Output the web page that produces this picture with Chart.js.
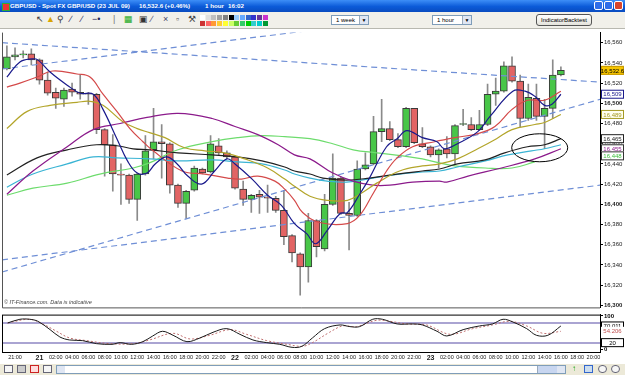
<!DOCTYPE html>
<html>
<head>
<meta charset="utf-8">
<script src="https://cdn.jsdelivr.net/npm/chart.js@4.4.0/dist/chart.umd.min.js"></script>
<style>
html,body{margin:0;padding:0;width:625px;height:375px;overflow:hidden;background:#fff;font-family:"Liberation Sans",Arial,sans-serif}
.abs{position:absolute}
#title{left:0;top:0;width:625px;height:12px;background:linear-gradient(#3d8ef7,#0b5ad8 55%,#0a4cc0);color:#fff;font-size:6.2px;font-weight:bold;line-height:12px;white-space:pre}
#title span{position:absolute;top:0}
.wb{position:absolute;top:1px;width:9px;height:9px;border:1px solid #fff;border-radius:2px;background:#2f6ee8;box-sizing:border-box}
#tool{left:0;top:12px;width:625px;height:16px;background:#f1f0ea;border-bottom:1px solid #b8b8b0}
.ic{position:absolute;top:2px;font-size:9px;line-height:11px;color:#333}
.pal{position:absolute;width:5px;height:5px}
.sel{position:absolute;top:3px;height:10px;background:#fff;border:1px solid #7f9db9;box-sizing:border-box;font-size:6px;line-height:8px;padding-left:4px;color:#000}
.sel i{position:absolute;right:0;top:0;width:8px;height:8px;background:#dfe6f3;border-left:1px solid #9ab;font-style:normal;font-size:5px;text-align:center}
#btn{left:536px;top:2px;width:56px;height:12px;border:1px solid #555;border-radius:3px;background:linear-gradient(#fff,#e4e3dc);box-sizing:border-box;font-size:6px;line-height:10px;text-align:center}
#copy{left:4px;top:299px;font-size:5.5px;font-style:italic;color:#444}
#bottom{left:0;top:364px;width:625px;height:11px;background:#ece9d8}
.bi{position:absolute;top:1px;width:9px;height:8px;border:1px solid #667;box-sizing:border-box;background:#f6f6f6}
#scroll{left:56px;top:1px;width:510px;height:9px;border:1px solid #7f9db9;background:#fff;box-sizing:border-box}
</style>
</head>
<body>
<div id="title" class="abs">
  <span style="left:2px;top:3px;width:6px;height:6px;background:#e33;border:1px solid #3a3"></span>
  <span style="left:10px">GBPUSD - Spot FX GBP/USD (23 JUL 09)</span>
  <span style="left:139px">16,532.6 (+0.46%)</span>
  <span style="left:205px">1 hour</span>
  <span style="left:228px">16:02</span>
  <div class="wb" style="left:594px"></div>
  <div class="wb" style="left:604px"></div>
  <div class="wb" style="left:614px;background:#d9452b"></div>
</div>
<div id="tool" class="abs">
  <span class="ic" style="left:36px">&#8598;</span>
  <span class="ic" style="left:46px;color:#d9a400">&#9650;</span>
  <span class="ic" style="left:57px">&#9906;</span>
  <span class="ic" style="left:70px;color:#225">&#8725;</span>
  <span class="ic" style="left:81px;color:#225">&#8725;</span>
  <span class="ic" style="left:92px;color:#225">&#8722;&#8226;</span>
  <span class="ic" style="left:113px;color:#777">|</span>
  <span class="ic" style="left:124px;color:#2a2">&#9638;</span>
  <span class="ic" style="left:139px">&#9635;</span>
  <span class="ic" style="left:151px;color:#446">&#8725;</span>
  <span class="ic" style="left:163px;color:#446">&#215;</span>
  <span class="ic" style="left:176px;color:#555">&#9643;</span>
  <span class="ic" style="left:188px;color:#444">&#9874;</span>
  <div id="pal"></div>
  <div class="sel" style="left:331px;width:38px">1 week<i>&#9660;</i></div>
  <div class="sel" style="left:432px;width:40px">1 hour<i>&#9660;</i></div>
  <div id="btn" class="abs">IndicatorBacktest</div>
</div>
<canvas id="main" class="abs" style="left:0;top:28px" width="625" height="284"></canvas>
<div id="copy" class="abs">&copy; IT-Finance.com. Data is indicative</div>
<canvas id="osc" class="abs" style="left:0;top:310px" width="625" height="54"></canvas>
<div id="bottom" class="abs">
  <div class="bi" style="left:4px"></div>
  <div class="bi" style="left:17px;background:#ccc"></div>
  <div class="bi" style="left:30px;border-color:#c22;background:#fdd"></div>
  <div class="bi" style="left:43px"></div>
  <div id="scroll" class="abs">
    <div class="abs" style="left:0;top:0;width:8px;height:7px;background:#dfe6f3"></div>
    <div class="abs" style="left:480px;top:0;width:20px;height:7px;background:#c8d6f0;border-left:1px solid #9ab"></div>
    <div class="abs" style="left:500px;top:0;width:8px;height:7px;background:#dfe6f3"></div>
  </div>
  <div class="bi" style="left:572px;border:none;background:none;color:#2a2;font-size:8px;line-height:8px">&#8593;</div>
  <div class="bi" style="left:584px;border-color:#36c;background:#cde"></div>
  <div class="bi" style="left:598px;border-radius:5px"></div>
  <div class="bi" style="left:611px;border-radius:5px"></div>
</div>
<script>
// hourly candles, 20 Jul 20:00 .. 23 Jul 16:00
const opens  = [16534,16546,16548,16549,16543,16523,16511,16504,16514,16511,16510,16509,16474,16459,16430,16429,16405,16430,16454,16462,16460,16419,16401,16414,16435,16432,16458,16451,16447,16415,16405,16410,16407,16406,16394,16369,16351,16338,16384,16356,16400,16426,16391,16389,16435,16440,16472,16475,16464,16457,16495,16460,16457,16449,16455,16450,16479,16479,16474,16479,16509,16512,16537,16522,16485,16505,16487,16495,16528];
const highs  = [16557,16555,16552,16554,16544,16531,16515,16515,16520,16528,16511,16510,16475,16469,16440,16430,16431,16468,16495,16479,16461,16420,16414,16438,16436,16468,16465,16453,16448,16423,16410,16414,16419,16408,16414,16370,16352,16391,16385,16410,16450,16427,16402,16443,16451,16487,16504,16482,16470,16496,16495,16476,16458,16455,16467,16479,16494,16486,16493,16519,16525,16541,16546,16528,16519,16519,16504,16543,16536];
const lows   = [16533,16543,16545,16538,16519,16508,16495,16497,16507,16504,16499,16470,16428,16413,16400,16401,16384,16429,16445,16426,16411,16397,16386,16413,16430,16431,16449,16445,16415,16399,16392,16391,16392,16392,16360,16343,16310,16323,16348,16354,16399,16390,16355,16388,16434,16439,16462,16463,16456,16456,16460,16456,16447,16436,16446,16440,16478,16473,16473,16478,16498,16511,16521,16477,16483,16483,16455,16485,16527];
const closes = [16546,16548,16549,16543,16523,16510,16505,16513,16511,16509,16509,16474,16459,16430,16429,16405,16430,16453,16462,16460,16419,16401,16413,16436,16431,16460,16451,16447,16416,16405,16409,16407,16406,16394,16368,16352,16338,16384,16358,16400,16426,16391,16389,16435,16439,16472,16475,16464,16457,16495,16461,16457,16449,16454,16450,16478,16480,16474,16479,16509,16512,16537,16522,16485,16506,16487,16495,16528,16532.6];

// moving averages: [candle position, price]
const maBlue   = [[0,16526],[1.6,16541],[3.1,16544],[3.8,16543],[5.3,16531],[7.4,16518],[9,16510],[10.6,16509],[11.8,16494],[13.5,16465],[14.8,16443],[16,16431],[17.2,16431],[18.2,16440],[19.6,16447],[20.9,16440],[22.2,16428],[23.9,16420],[25.5,16433],[27,16445],[28,16440],[30.1,16425],[32,16409],[33.7,16399],[35.3,16381],[36.8,16371],[37.9,16361],[39.3,16374],[40.9,16391],[41.8,16392],[43.3,16410],[44.5,16426],[46.6,16457],[47.9,16465],[49.1,16473],[51,16466],[52.8,16462],[53.7,16455],[55.3,16460],[57.8,16472],[59.3,16487],[62.1,16512],[63.6,16512],[64.8,16507],[66,16498],[66.9,16499],[68,16509]];
const maRed    = [[0,16516],[1.6,16520],[3.7,16526],[5.6,16532],[8.6,16529],[10.2,16526],[11.8,16509],[13.5,16492],[15.1,16475],[16.7,16462],[17.8,16454],[21.5,16433],[24.3,16430],[27.1,16426],[28.8,16425],[30.8,16428],[32.9,16423],[34.1,16415],[35.3,16404],[36.3,16392],[38.4,16382],[41.8,16381],[43.3,16389],[44.9,16410],[46.6,16433],[47.9,16446],[49.8,16457],[52.5,16462],[55,16466],[57.8,16470],[59.9,16477],[62,16494],[63.9,16503],[66,16503],[68,16512]];
const maOlive  = [[0,16475],[2.5,16492],[5.3,16498],[8.6,16501],[10.2,16502],[11.8,16498],[14.2,16482],[16,16475],[17.5,16471],[19.4,16466],[21.8,16456],[24.3,16453],[26.7,16451],[29.2,16445],[32,16436],[34.1,16425],[35.3,16418],[37.2,16408],[39.3,16404],[41.8,16404],[43.3,16410],[45.4,16421],[48.2,16433],[51,16438],[53.1,16440],[55.3,16445],[57.8,16455],[60.1,16465],[62,16474],[64.8,16479],[66,16481],[68,16489]];
const maPurple = [[0,16410],[3.2,16433],[7.4,16457],[10.6,16474],[13.9,16480],[17.2,16486],[21,16490],[25.2,16485],[28,16477],[30.8,16469],[33.3,16459],[35.3,16449],[37.2,16445],[40,16431],[42.5,16423],[44.9,16419],[47,16419],[49.8,16422],[53.1,16423],[54,16422],[56.6,16428],[60.7,16436],[64.8,16445],[68,16455]];
const maBlack  = [[0,16429],[3.7,16446],[7.4,16454],[11,16459],[13.5,16458],[15.5,16455],[17.5,16454],[21,16451],[25.2,16449],[28.3,16447],[31.3,16443],[34.1,16437],[35.3,16433],[37.2,16430],[38.8,16426],[41.7,16424],[44.5,16426],[47.9,16430],[51,16433],[53.1,16435],[55.3,16440],[58.7,16444],[61.1,16451],[63.9,16457],[66,16459],[68,16465]];
const maCyan   = [[0,16417],[3.2,16430],[7.4,16440],[10.6,16447],[13.5,16446],[17.5,16445],[21,16443],[25.2,16444],[28.3,16442],[31.3,16440],[34.1,16434],[35.3,16430],[37.2,16426],[39.3,16423],[41.7,16422],[44.9,16426],[48.2,16430],[51,16432],[53.1,16433],[55.3,16437],[58.7,16443],[61.5,16449],[64.4,16453],[66,16455],[68,16459]];
const maGreen  = [[0,16409],[3.2,16416],[7.4,16421],[11.4,16430],[15.5,16436],[17.5,16441],[21,16454],[25.2,16462],[28.3,16466],[31.3,16468],[34.1,16467],[37.2,16465],[40,16460],[42.5,16454],[45.4,16451],[48.6,16448],[51,16445],[53.1,16441],[55,16438],[58.7,16436],[62,16436],[64.8,16442]];

// dashed trend lines: [[x0, p0], [x1, p1]]
const trends = [
  [[-0.6,16560],[72.8,16521]],
  [[-0.6,16534],[72.8,16608]],
  [[-0.6,16333],[72.8,16504]],
  [[-0.6,16345],[72.8,16419]]
];

// stochastic
const stochK = [[0.1,79],[1.6,90],[2.8,90],[3.8,84],[5.3,59],[6.5,37],[7.7,28],[9.3,26],[11,17],[12.9,15],[13.9,20],[15.3,15],[16.7,23],[17.9,40],[19.1,54],[20.4,42],[22.1,23],[23.7,34],[25.3,51],[27,62],[28.6,45],[30.2,28],[31.9,20],[33.5,15],[35,6],[36.2,9],[37.5,34],[39,62],[40.9,73],[42.1,68],[43.3,68],[44.9,90],[46.1,90],[47.9,76],[49.8,76],[51,73],[52.8,54],[54,40],[56,59],[58,70],[59.6,76],[60.9,90],[62.1,82],[63.8,62],[65,42],[66.4,42],[68,70]];
const stochD = [[0.1,79],[2.8,90],[4.4,76],[6.1,54],[7.7,34],[9.8,26],[12.6,17],[15.5,17],[17.5,28],[20.4,48],[22.5,31],[24.9,42],[27.4,59],[29.4,45],[31.9,26],[34.4,15],[36.3,9],[37.5,20],[39.6,51],[41.2,70],[42.9,68],[45.4,87],[47,84],[49.1,76],[51.5,73],[54.4,45],[57.2,62],[59.6,73],[61.7,84],[63.8,70],[65.8,48],[68,54]];
const stochLevels = [80, 20];

const yTicks = [16300,16320,16340,16360,16380,16400,16420,16440,16460,16480,16500,16520,16540,16560];
const xTickPos  = [1,4,6,8,10,12,14,16,18,20,22,24,26,28,30,32,34,36,38,40,42,44,46,48,50,52,54,56,58,60,62,64,66,68,70,72];
const xTickText = ['21:00','21','02:00','04:00','06:00','08:00','10:00','12:00','14:00','16:00','18:00','20:00','22:00','22','02:00','04:00','06:00','08:00','10:00','12:00','14:00','16:00','18:00','20:00','22:00','23','02:00','04:00','06:00','08:00','10:00','12:00','14:00','16:00','18:00','20:00'];

const priceTags = [
  {text:'16,532.6', value:16532.6, color:'#000', bg:'#f5c400', border:'#c79a00'},
  {text:'16,509', value:16509, color:'#1a1a8c', bg:'#fff', border:'#1a1a8c'},
  {text:'16,489', value:16489, color:'#a59a25', bg:'#fffff0', border:'#a59a25'},
  {text:'16,465', value:16465, color:'#222', bg:'#fff', border:'#222'},
  {text:'16,455', value:16455, color:'#8b1a8b', bg:'#fff', border:'#333'},
  {text:'16,448', value:16448, color:'#3bbf3b', bg:'#fff', border:'#333'}
];
const stochTags = [
  {text:'70.011', value:70, color:'#000', bg:'#fff', border:'#000'},
  {text:'54.206', value:54, color:'#c05050', bg:'#fff', border:null},
  {text:'20', value:20, color:'#000', bg:'#fff', border:'#000'}
];
const circled = {x:65.4, y:16456, rx:28, ry:14};

const xMin = -0.6, xMax = 72.8;
const FONT = '"Liberation Sans", Arial, sans-serif';
const UP = '#48c648', DOWN = '#e26464';

// palette in toolbar
const palTop = ['#fff','#e0e0e0','#c0c0c0','#a0a0a0','#808080','#000','#9cf','#6af','#36c','#33c','#639','#c3c'];
const palBot = ['#c33','#f66','#f93','#fc3','#ff3','#cf6','#6c3','#3c6','#0c0','#3cc','#0cc','#093'];
const palDiv = document.getElementById('pal');
palTop.forEach((c, i) => palDiv.insertAdjacentHTML('beforeend', `<div class="pal" style="left:${200 + i * 5.7}px;top:3px;background:${c}"></div>`));
palBot.forEach((c, i) => palDiv.insertAdjacentHTML('beforeend', `<div class="pal" style="left:${200 + i * 5.7}px;top:9px;background:${c}"></div>`));

function fmt(v) {
  return String(v).replace(/\B(?=(\d{3})+(?!\d))/g, ',');
}
function pts(arr) {
  return arr.map(p => ({x: p[0], y: p[1]}));
}
function maLine(arr, color) {
  return {type: 'line', data: pts(arr), borderColor: color, borderWidth: 1.2, pointRadius: 0, tension: 0.4, order: 1};
}
function drawTags(chart, tags) {
  const ctx = chart.ctx, y = chart.scales.y;
  ctx.save();
  ctx.font = '6px ' + FONT;
  ctx.textAlign = 'center';
  ctx.textBaseline = 'middle';
  tags.forEach(t => {
    const py = y.getPixelForValue(t.value);
    ctx.fillStyle = t.bg;
    ctx.fillRect(601, py - 4.5, 23, 9);
    if (t.border) {
      ctx.strokeStyle = t.border;
      ctx.lineWidth = 1;
      ctx.strokeRect(601.5, py - 4, 22, 8);
    }
    ctx.fillStyle = t.color;
    ctx.fillText(t.text, 612.5, py + 0.5);
  });
  ctx.restore();
}

const mainDecor = {
  id: 'mainDecor',
  afterDraw(chart) {
    const ctx = chart.ctx, a = chart.chartArea, x = chart.scales.x, y = chart.scales.y;
    ctx.save();
    ctx.strokeStyle = '#000';
    ctx.lineWidth = 1;
    ctx.beginPath();
    ctx.ellipse(x.getPixelForValue(circled.x), y.getPixelForValue(circled.y), circled.rx, circled.ry, 0, 0, Math.PI * 2);
    ctx.stroke();
    ctx.strokeStyle = '#555';
    ctx.beginPath();
    ctx.moveTo(a.left + 0.5, a.top);
    ctx.lineTo(a.left + 0.5, a.bottom + 0.5);
    ctx.lineTo(a.right, a.bottom + 0.5);
    ctx.stroke();
    ctx.restore();
    drawTags(chart, priceTags);
  }
};

const oscDecor = {
  id: 'oscDecor',
  beforeDatasetsDraw(chart) {
    const ctx = chart.ctx, a = chart.chartArea, y = chart.scales.y;
    ctx.save();
    ctx.strokeStyle = '#aaa4d2';
    ctx.lineWidth = 2;
    stochLevels.forEach(l => {
      const py = Math.round(y.getPixelForValue(l));
      ctx.beginPath();
      ctx.moveTo(a.left, py);
      ctx.lineTo(a.right, py);
      ctx.stroke();
    });
    ctx.restore();
  },
  afterDraw(chart) {
    const ctx = chart.ctx, a = chart.chartArea;
    ctx.save();
    ctx.strokeStyle = '#000';
    ctx.lineWidth = 1;
    ctx.strokeRect(a.left + 0.5, a.top + 0.5, a.right - a.left, a.bottom - a.top);
    ctx.restore();
    drawTags(chart, stochTags);
  }
};

const idx = opens.map((o, i) => i);
const isUp = i => closes[i] >= opens[i];

const datasets = [
  maLine(maBlue, '#1a1a8c'),
  maLine(maRed, '#d44a4a'),
  maLine(maOlive, '#b3a52a'),
  maLine(maPurple, '#8b1a8b'),
  maLine(maBlack, '#222'),
  maLine(maCyan, '#3ab4d4'),
  maLine(maGreen, '#6ddc6d')
];
trends.forEach(t => datasets.push({
  type: 'line', data: pts(t), borderColor: '#6f8fd6', borderWidth: 1.2,
  borderDash: [6, 4], pointRadius: 0, tension: 0, order: 2
}));
datasets.push({
  type: 'bar', data: idx.map(i => ({x: i, y: [opens[i], closes[i]]})),
  backgroundColor: c => isUp(c.dataIndex) ? UP : DOWN,
  borderColor: '#3a3a3a', borderWidth: 1, borderSkipped: false,
  barThickness: 7, minBarLength: 1, grouped: false, order: 10
});
datasets.push({
  type: 'bar', data: idx.map(i => ({x: i, y: [lows[i], highs[i]]})),
  backgroundColor: '#8a8a8a', borderWidth: 0,
  barThickness: 1, grouped: false, order: 11
});

new Chart(document.getElementById('main'), {
  type: 'bar',
  data: {datasets},
  options: {
    responsive: false,
    animation: false,
    layout: {padding: {top: 2, bottom: 4, left: 2, right: 0}},
    plugins: {legend: {display: false}, tooltip: {enabled: false}},
    scales: {
      x: {type: 'linear', min: xMin, max: xMax, offset: false, display: false},
      y: {
        position: 'right', min: 16298, max: 16570,
        afterFit(s) { s.width = 25; },
        afterBuildTicks(s) { s.ticks = yTicks.map(v => ({value: v})); },
        grid: {drawOnChartArea: false, tickLength: 3, color: '#000'},
        border: {color: '#000'},
        ticks: {
          padding: 1, color: '#222',
          font: c => ({family: FONT, size: 6, weight: c.tick && c.tick.value % 100 === 0 ? 'bold' : 'normal'}),
          callback: v => fmt(v)
        }
      }
    }
  },
  plugins: [mainDecor]
});

new Chart(document.getElementById('osc'), {
  type: 'line',
  data: {
    datasets: [
      {data: pts(stochK), borderColor: '#1a1a1a', borderWidth: 1, pointRadius: 0, tension: 0.35},
      {data: pts(stochD), borderColor: '#c07070', borderWidth: 1, borderDash: [2, 2], pointRadius: 0, tension: 0.35}
    ]
  },
  options: {
    responsive: false,
    animation: false,
    layout: {padding: {top: 2, bottom: 0, left: 2, right: 0}},
    plugins: {legend: {display: false}, tooltip: {enabled: false}},
    scales: {
      x: {
        type: 'linear', min: xMin, max: xMax, offset: false,
        afterFit(s) { s.height = 12; },
        afterBuildTicks(s) { s.ticks = xTickPos.map(v => ({value: v})); },
        grid: {display: false, drawTicks: false}, border: {display: false},
        ticks: {
          autoSkip: false, maxRotation: 0, padding: 2, color: '#222',
          font: c => {
            const day = c.index !== undefined && xTickText[c.index] && xTickText[c.index].length === 2;
            return {family: FONT, size: day ? 7 : 5.5, weight: day ? 'bold' : 'normal'};
          },
          callback: (v, i) => xTickText[i]
        }
      },
      y: {
        position: 'right', min: -8, max: 104,
        afterFit(s) { s.width = 25; },
        afterBuildTicks(s) { s.ticks = [{value: 0}, {value: 100}]; },
        grid: {drawOnChartArea: false, tickLength: 3, color: '#000'},
        border: {color: '#000'},
        ticks: {padding: 1, color: '#000', font: {family: FONT, size: 6, weight: 'bold'}}
      }
    }
  },
  plugins: [oscDecor]
});
</script>
</body>
</html>
